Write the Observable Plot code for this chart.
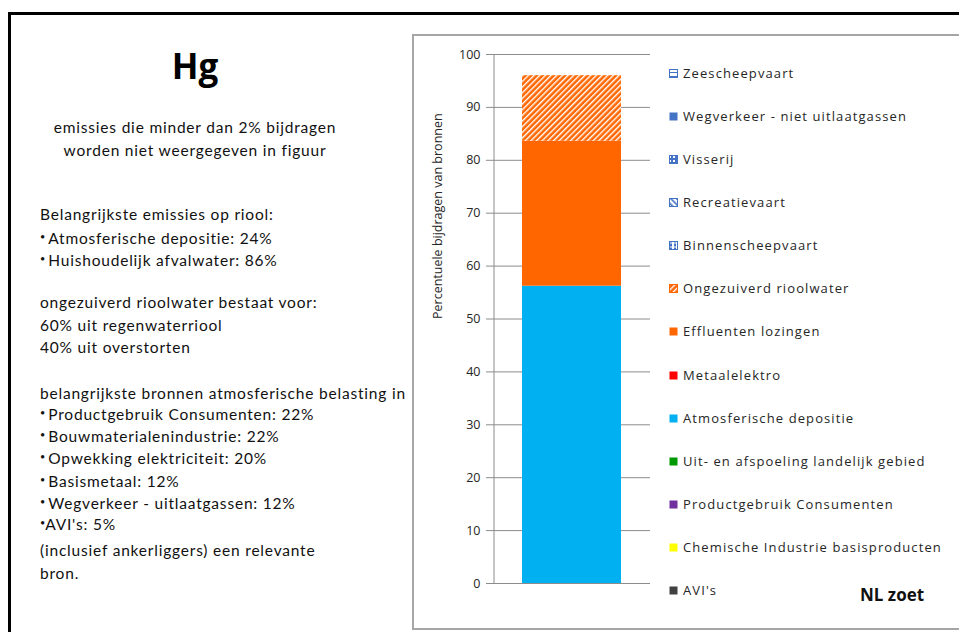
<!DOCTYPE html>
<html>
<head>
<meta charset="utf-8">
<script src="https://cdn.jsdelivr.net/npm/d3@7"></script>
<script src="https://cdn.jsdelivr.net/npm/@observablehq/plot@0.6"></script>
<style>
  html, body { margin: 0; padding: 0; background: #fff; }
  #root { position: relative; width: 959px; height: 632px; overflow: hidden; background: #fff; }
  #outer { position: absolute; left: 8px; top: 12px; width: 1000px; height: 700px; border: 3px solid #000; box-sizing: border-box; }
  .lt { position: absolute; font-family: Lato, "Liberation Sans", sans-serif; font-size: 15.5px; letter-spacing: 0.8px; color: #111; white-space: nowrap; line-height: 18px; }
  .bul { font-size: 9px; vertical-align: 4px; margin-right: 3px; letter-spacing: 0; }
  #hg { position: absolute; left: 0; width: 390px; text-align: center; top: 44px; font-family: "Open Sans", sans-serif; font-weight: 700; font-size: 35px; line-height: 44px; color: #000; }
  #panel { position: absolute; left: 412px; top: 34px; width: 600px; height: 596px; border: 2px solid #a6a6a6; box-sizing: border-box; background: #fff; }
  #plotwrap { position: absolute; left: 0; top: 0; }
  .lg { position: absolute; left: 269px; font-family: "Open Sans", sans-serif; font-size: 13px; letter-spacing: 1.1px; color: #262626; white-space: nowrap; line-height: 16px; }
  .lg svg { position: absolute; left: -14px; top: 4px; }
  #cat { position: absolute; left: 446px; top: 547px; font-family: "Open Sans", sans-serif; font-weight: 700; font-size: 17px; color: #111; }
</style>
</head>
<body>
<div id="root">
  <div id="outer"></div>
  <div id="hg">Hg</div>
  <div id="left"></div>
  <div id="panel">
    <div id="plotwrap"></div>
    <div id="legend"></div>
    <div id="cat"></div>
  </div>
</div>
<svg width="0" height="0" style="position:absolute">
  <defs>
    <pattern id="hg-hatch" patternUnits="userSpaceOnUse" width="4" height="4" patternTransform="rotate(45)">
      <rect width="4" height="4" fill="#ff6600"></rect>
      <rect x="0" y="0" width="1.4" height="4" fill="#ffffff"></rect>
    </pattern>
    <pattern id="p-hz" patternUnits="userSpaceOnUse" width="4" height="4">
      <rect width="4" height="4" fill="#ffffff"></rect>
      <rect y="3" width="4" height="1.5" fill="#4472c4"></rect>
    </pattern>
    <pattern id="p-vis" patternUnits="userSpaceOnUse" width="4" height="4">
      <rect width="4" height="4" fill="#4472c4"></rect>
      <rect x="0" y="1" width="2" height="2" fill="#ffffff"></rect>
    </pattern>
    <pattern id="p-rec" patternUnits="userSpaceOnUse" width="4" height="4" patternTransform="rotate(-45)">
      <rect width="4" height="4" fill="#ffffff"></rect>
      <rect width="1.6" height="4" fill="#4472c4"></rect>
    </pattern>
    <pattern id="p-bin" patternUnits="userSpaceOnUse" width="4" height="4">
      <rect width="4" height="4" fill="#ffffff"></rect>
      <rect x="1" y="0" width="2" height="1.5" fill="#4472c4"></rect>
      <rect x="1" y="2.5" width="2" height="1.5" fill="#4472c4"></rect>
    </pattern>
  </defs>
</svg>
<script>
// ---- data ----
const category = "NL zoet";
const series = [
  "Zeescheepvaart",
  "Wegverkeer - niet uitlaatgassen",
  "Visserij",
  "Recreatievaart",
  "Binnenscheepvaart",
  "Ongezuiverd rioolwater",
  "Effluenten lozingen",
  "Metaalelektro",
  "Atmosferische depositie",
  "Uit- en afspoeling landelijk gebied",
  "Productgebruik Consumenten",
  "Chemische Industrie basisproducten",
  "AVI's"
];
const values = [0, 0, 0, 0, 0, 12.4, 27.4, 0, 56.2, 0, 0, 0, 0];
const fills = [
  "url(#p-hz)", "#4472c4", "url(#p-vis)", "url(#p-rec)", "url(#p-bin)",
  "url(#hg-hatch)", "#ff6600", "#ff0000", "#00b0f0", "#009900", "#7030a0", "#ffff00", "#404040"
];
const swatchStroke = ["#4472c4", null, "#4472c4", "#4472c4", "#4472c4", "#ff6600", null, null, null, null, null, null, null];
const yTicks = [0, 10, 20, 30, 40, 50, 60, 70, 80, 90, 100];
const yLabel = "Percentuele bijdragen van bronnen";

const leftLines = [
  {t: "emissies die minder dan 2% bijdragen", y: 127, center: true},
  {t: "worden niet weergegeven in figuur", y: 150, center: true},
  {t: "Belangrijkste emissies op riool:", y: 214},
  {t: "Atmosferische depositie: 24%", y: 237, b: true},
  {t: "Huishoudelijk afvalwater: 86%", y: 259, b: true},
  {t: "ongezuiverd rioolwater bestaat voor:", y: 302},
  {t: "60% uit regenwaterriool", y: 325},
  {t: "40% uit overstorten", y: 347},
  {t: "belangrijkste bronnen atmosferische belasting in", y: 393},
  {t: "Productgebruik Consumenten: 22%", y: 413, b: true},
  {t: "Bouwmaterialenindustrie: 22%", y: 435, b: true},
  {t: "Opwekking elektriciteit: 20%", y: 457, b: true},
  {t: "Basismetaal: 12%", y: 480, b: true},
  {t: "Wegverkeer - uitlaatgassen: 12%", y: 502, b: true},
  {t: "AVI's: 5%", y: 523, b: true, tight: true},
  {t: "(inclusief ankerliggers) een relevante", y: 550},
  {t: "bron.", y: 573}
];

// ---- left text ----
const left = document.getElementById("left");
for (const l of leftLines) {
  const d = document.createElement("div");
  d.className = "lt";
  d.style.top = (l.y - 9) + "px";
  if (l.center) { d.style.left = "0px"; d.style.width = "390px"; d.style.textAlign = "center"; }
  else d.style.left = "40px";
  if (l.b) {
    const s = document.createElement("span");
    s.className = "bul";
    s.textContent = "•";
    if (l.tight) s.style.marginRight = "0px";
    d.appendChild(s);
  }
  d.appendChild(document.createTextNode(l.t));
  left.appendChild(d);
}

// ---- chart ----
const data = series.map((s, i) => ({category, series: s, value: values[i]}))
  .filter(d => d.value > 0)
  .reverse();

const chart = Plot.plot({
  width: 240,
  height: 592,
  marginLeft: 80,
  marginRight: 4,
  marginTop: 18,
  marginBottom: 45,
  style: {fontFamily: "'Open Sans', sans-serif", fontSize: "12.5px", color: "#404040", background: "transparent"},
  x: {domain: [category], padding: 0.22, axis: null},
  y: {domain: [0, 100], ticks: yTicks, axis: null},
  color: {domain: series, range: fills},
  marks: [
    Plot.gridY(yTicks, {stroke: "#8c8c8c", strokeOpacity: 1}),
    Plot.axisY(yTicks, {tickSize: 8, tickPadding: 6, stroke: "#8c8c8c", fill: "#262626", label: null}),
    Plot.barY(data, Plot.stackY({x: "category", y: "value", fill: "series", order: null})),
    Plot.ruleX([category], {stroke: "#8c8c8c", dx: -78}),
    Plot.text([yLabel], {frameAnchor: "left", rotate: -90, dx: -57, fill: "#262626", fontSize: 12.5})
  ]
});
document.getElementById("plotwrap").appendChild(chart);

// ---- legend ----
const legend = document.getElementById("legend");
series.forEach((s, i) => {
  const cy = 73 + i * 43.08 - 36;
  const d = document.createElement("div");
  d.className = "lg";
  d.style.top = (cy - 8) + "px";
  const ns = "http://www.w3.org/2000/svg";
  const sv = document.createElementNS(ns, "svg");
  sv.setAttribute("width", 9); sv.setAttribute("height", 9);
  const r = document.createElementNS(ns, "rect");
  r.setAttribute("x", 0.5); r.setAttribute("y", 0.5);
  r.setAttribute("width", 8); r.setAttribute("height", 8);
  r.setAttribute("fill", fills[i]);
  if (swatchStroke[i]) r.setAttribute("stroke", swatchStroke[i]);
  sv.appendChild(r);
  d.appendChild(sv);
  d.appendChild(document.createTextNode(s));
  legend.appendChild(d);
});
document.getElementById("cat").textContent = category;
</script>
</body>
</html>
